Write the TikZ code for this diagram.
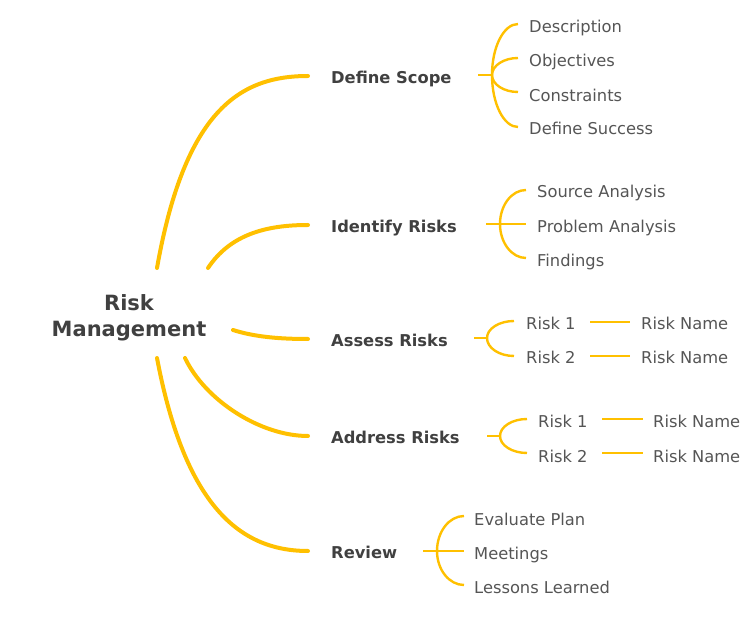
\documentclass[tikz,border=0pt]{standalone}
\usepackage{fontspec}
\usetikzlibrary{calc}
\setmainfont{DejaVu Sans}
\definecolor{gold}{RGB}{255,192,0}
\definecolor{txt}{RGB}{85,85,85}
\definecolor{btxt}{RGB}{64,64,64}
\begin{document}
\begin{tikzpicture}[x=1pt,y=-1pt,
 leaf/.style={anchor=base west,inner sep=0pt,text=txt,font=\fontsize{16.3}{19}\selectfont},
 branch/.style={anchor=base west,inner sep=0pt,text=btxt,font=\fontsize{16.3}{19}\selectfont\bfseries},
 rootstyle/.style={align=center,inner sep=0pt,text=btxt,font=\fontsize{21}{26}\selectfont\bfseries},
 mainline/.style={line width=4pt,draw=gold,line cap=round},
 braceline/.style={line width=2.4pt,draw=gold},
]
\useasboundingbox (0,0) rectangle (753,628);

% root
\node[rootstyle] (root) at (129,317.5) {Risk\\Management};

% branches
\node[branch] (ds) at (331,84) {Define Scope};
\node[branch] (ir) at (331,233) {Identify Risks};
\node[branch] (as) at (331,347) {Assess Risks};
\node[branch] (ad) at (331,444) {Address Risks};
\node[branch] (rv) at (331,558) {Review};

% leaves
\node[leaf] (d1) at (529,33) {Description};
\node[leaf] (d2) at (529,67) {Objectives};
\node[leaf] (d3) at (529,102) {Constraints};
\node[leaf] (d4) at (529,135) {Define Success};
\node[leaf] (i1) at (537,198) {Source Analysis};
\node[leaf] (i2) at (537,233) {Problem Analysis};
\node[leaf] (i3) at (537,267) {Findings};
\node[leaf] (a1) at (526,330) {Risk 1};
\node[leaf] (a2) at (526,364) {Risk 2};
\node[leaf] (an1) at (641,330) {Risk Name};
\node[leaf] (an2) at (641,364) {Risk Name};
\node[leaf] (b1) at (538,428) {Risk 1};
\node[leaf] (b2) at (538,462) {Risk 2};
\node[leaf] (bn1) at (653,428) {Risk Name};
\node[leaf] (bn2) at (653,462) {Risk Name};
\node[leaf] (v1) at (474,525) {Evaluate Plan};
\node[leaf] (v2) at (474,559) {Meetings};
\node[leaf] (v3) at (474,593) {Lessons Learned};

% root connector ends
\coordinate (rDS) at (157,268); \coordinate (eDS) at (308,76);
\coordinate (rIR) at (208,268); \coordinate (eIR) at (308,225);
\coordinate (rAS) at (233,330); \coordinate (eAS) at (308,339);
\coordinate (rAD) at (185,358); \coordinate (eAD) at (308,436);
\coordinate (rRV) at (157,358); \coordinate (eRV) at (308,551);

\draw[mainline] (rDS) .. controls (185,110) and (240,76) .. (eDS);
\draw[mainline] (rIR) .. controls (230,235) and (265,225) .. (eIR);
\draw[mainline] (rAS) .. controls (255,337) and (280,339) .. (eAS);
\draw[mainline] (rAD) .. controls (205,400) and (260,436) .. (eAD);
\draw[mainline] (rRV) .. controls (185,506) and (240,551) .. (eRV);

\newcommand\bcurve[2]{\draw[braceline] (#1) .. controls ($(#1)!0.55!(#1|-#2)$) and ($(#2)!0.55!(#1|-#2)$) .. (#2);}

% Define Scope brace
\coordinate (sDS) at (478,75); \coordinate (jDS) at (492,75);
\coordinate (t1) at (518,24); \coordinate (t2) at (518,58);
\coordinate (t3) at (518,92); \coordinate (t4) at (518,127);
\draw[braceline] (sDS) -- (jDS);
\foreach \t in {t1,t2,t3,t4} {\bcurve{jDS}{\t}}

% Identify Risks brace
\coordinate (sIR) at (486,224); \coordinate (jIR) at (500,224);
\coordinate (u1) at (526,190); \coordinate (u2) at (526,224); \coordinate (u3) at (526,258);
\draw[braceline] (sIR) -- (u2);
\foreach \t in {u1,u3} {\bcurve{jIR}{\t}}

% Assess Risks brace
\coordinate (sAS) at (474,338); \coordinate (jAS) at (487,338);
\coordinate (w1) at (514,321); \coordinate (w2) at (514,356);
\draw[braceline] (sAS) -- (jAS);
\foreach \t in {w1,w2} {\bcurve{jAS}{\t}}
\coordinate (la1) at (590,322); \coordinate (ma1) at (630,322);
\coordinate (la2) at (590,356); \coordinate (ma2) at (630,356);
\draw[braceline] (la1) -- (ma1);
\draw[braceline] (la2) -- (ma2);

% Address Risks brace
\coordinate (sAD) at (487,436); \coordinate (jAD) at (500,436);
\coordinate (x1) at (527,419); \coordinate (x2) at (527,453);
\draw[braceline] (sAD) -- (jAD);
\foreach \t in {x1,x2} {\bcurve{jAD}{\t}}
\coordinate (lb1) at (602,419); \coordinate (mb1) at (643,419);
\coordinate (lb2) at (602,453); \coordinate (mb2) at (643,453);
\draw[braceline] (lb1) -- (mb1);
\draw[braceline] (lb2) -- (mb2);

% Review brace
\coordinate (sRV) at (423,551); \coordinate (jRV) at (437,551);
\coordinate (y1) at (464,516); \coordinate (y2) at (464,551); \coordinate (y3) at (464,585);
\draw[braceline] (sRV) -- (y2);
\foreach \t in {y1,y3} {\bcurve{jRV}{\t}}
\end{tikzpicture}
\end{document}
